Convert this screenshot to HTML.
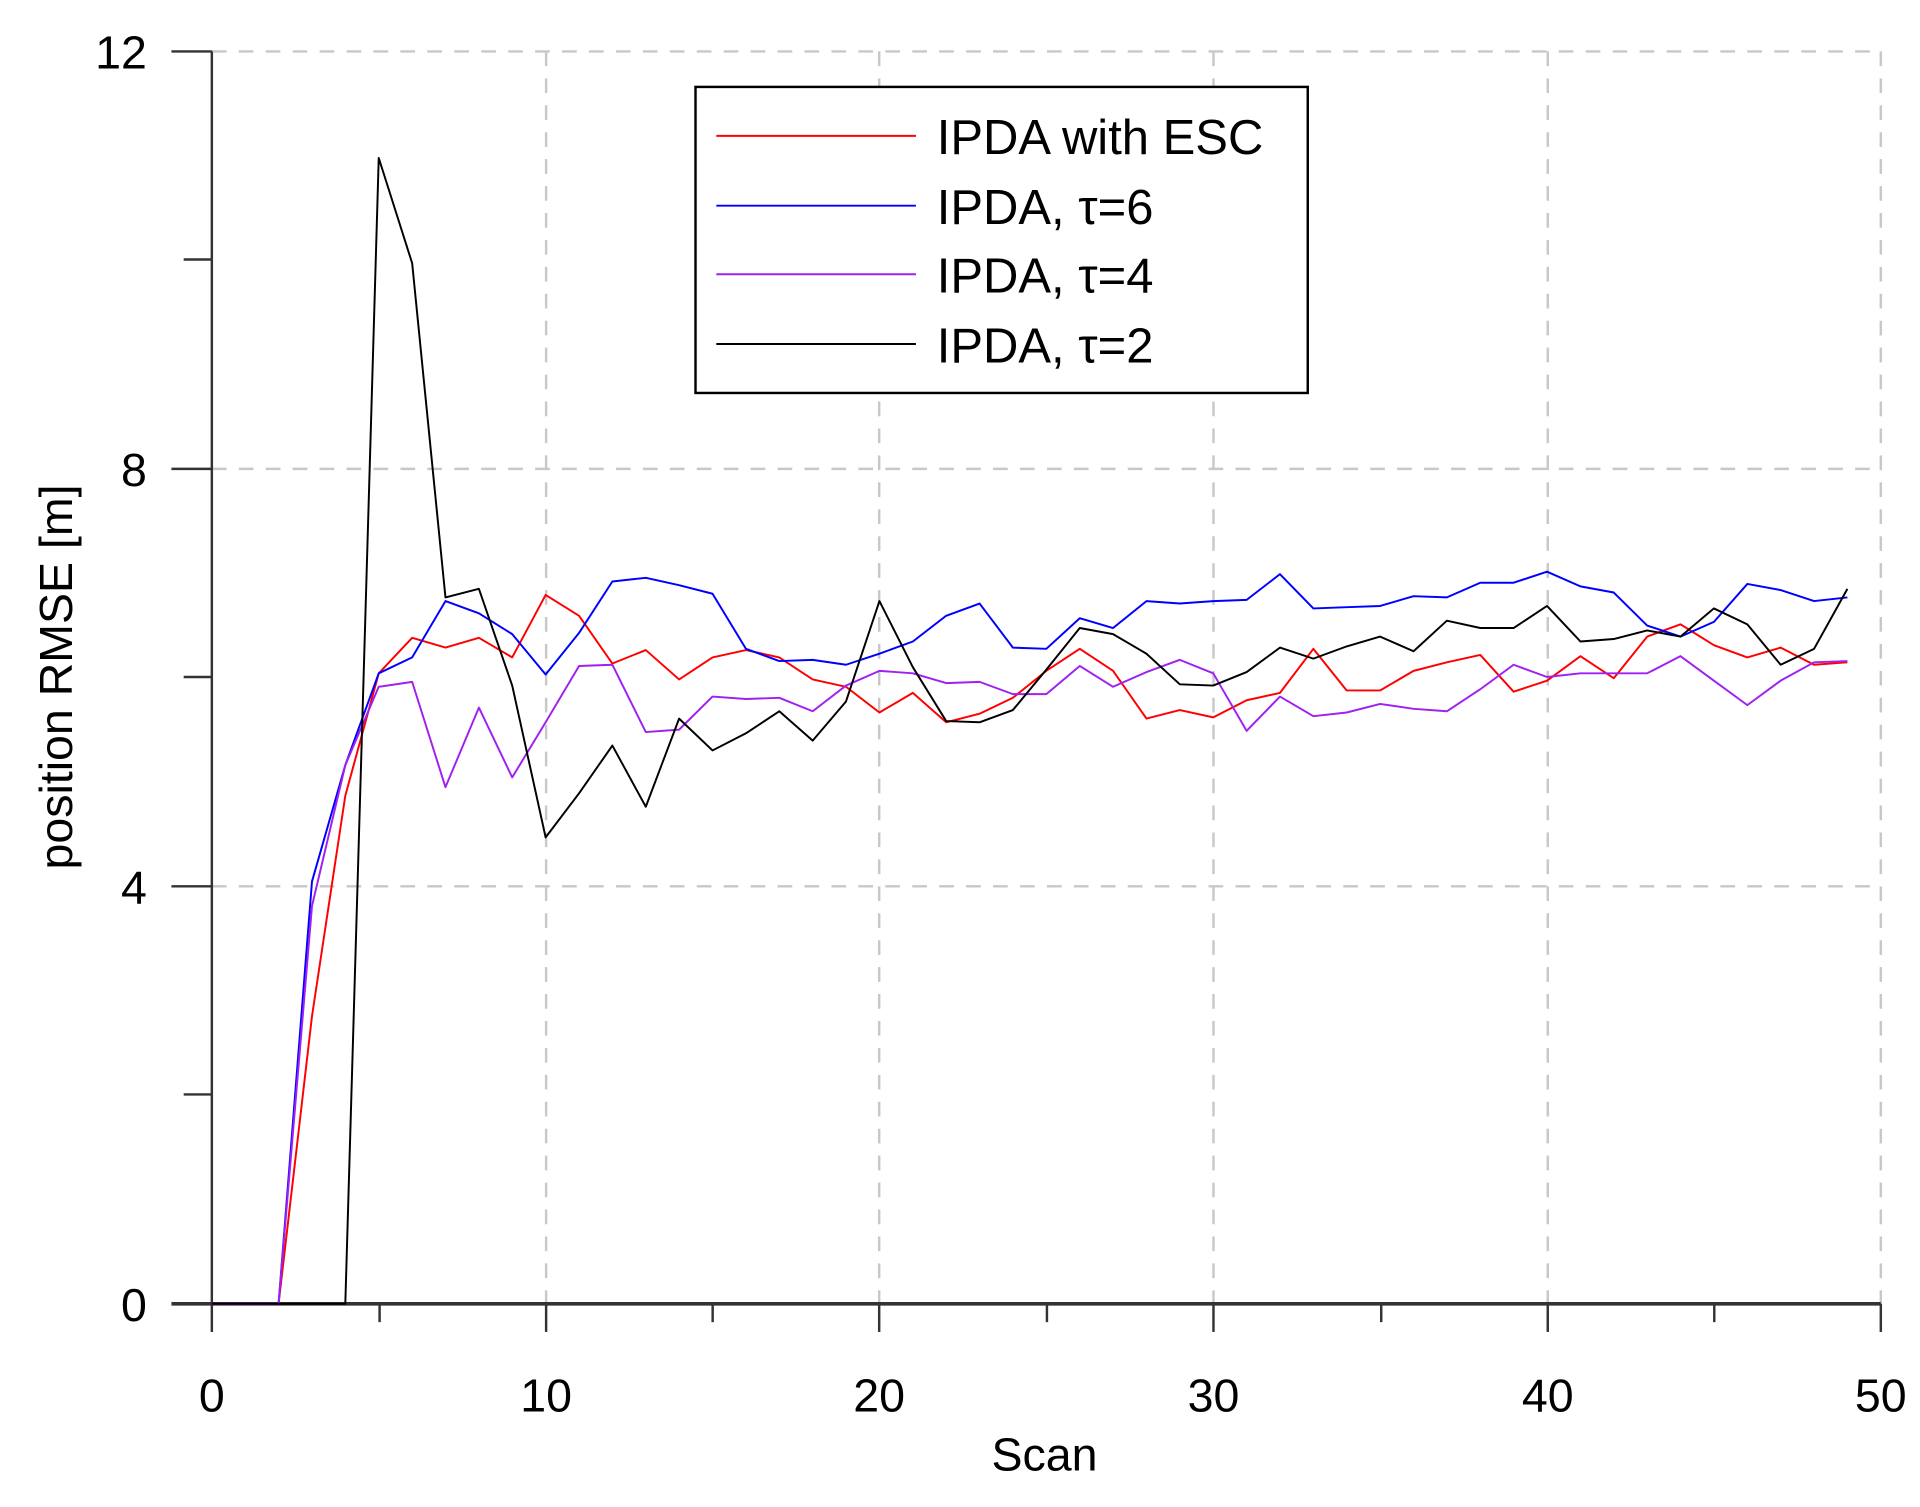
<!DOCTYPE html>
<html><head><meta charset="utf-8"><style>
html,body{margin:0;padding:0;background:#fff;}
svg{display:block;}
text{font-family:"Liberation Sans",sans-serif;fill:#000;}
</style></head><body>
<svg width="1920" height="1507" viewBox="0 0 1568 1231" preserveAspectRatio="none">
<g stroke="#c8c8c8" stroke-width="2" stroke-dasharray="12,10" fill="none">
<line x1="173" y1="42" x2="1536" y2="42"/>
<line x1="173" y1="383" x2="1536" y2="383"/>
<line x1="173" y1="724" x2="1536" y2="724"/>
<line x1="446" y1="42" x2="446" y2="1065"/>
<line x1="718" y1="42" x2="718" y2="1065"/>
<line x1="991" y1="42" x2="991" y2="1065"/>
<line x1="1264" y1="42" x2="1264" y2="1065"/>
<line x1="1536" y1="42" x2="1536" y2="1065"/>
</g>
<g stroke="#333" stroke-width="2" fill="none">
<line x1="173" y1="42" x2="173" y2="1088"/>
<line x1="140" y1="1065" x2="1536" y2="1065" stroke-width="3"/>
<line x1="140" y1="42" x2="173" y2="42"/>
<line x1="150" y1="212" x2="173" y2="212"/>
<line x1="140" y1="383" x2="173" y2="383"/>
<line x1="150" y1="553" x2="173" y2="553"/>
<line x1="140" y1="724" x2="173" y2="724"/>
<line x1="150" y1="894" x2="173" y2="894"/>
<line x1="446" y1="1065" x2="446" y2="1088"/>
<line x1="718" y1="1065" x2="718" y2="1088"/>
<line x1="991" y1="1065" x2="991" y2="1088"/>
<line x1="1264" y1="1065" x2="1264" y2="1088"/>
<line x1="1536" y1="1065" x2="1536" y2="1088"/>
<line x1="310" y1="1065" x2="310" y2="1080"/>
<line x1="582" y1="1065" x2="582" y2="1080"/>
<line x1="855" y1="1065" x2="855" y2="1080"/>
<line x1="1128" y1="1065" x2="1128" y2="1080"/>
<line x1="1400" y1="1065" x2="1400" y2="1080"/>
</g>
<g font-size="38" text-anchor="end">
<text x="120" y="56">12</text>
<text x="120" y="397">8</text>
<text x="120" y="738">4</text>
<text x="120" y="1079">0</text>
</g>
<g font-size="38" text-anchor="middle">
<text x="173" y="1153">0</text>
<text x="446" y="1153">10</text>
<text x="718" y="1153">20</text>
<text x="991" y="1153">30</text>
<text x="1264" y="1153">40</text>
<text x="1536" y="1153">50</text>
<text x="853" y="1201">Scan</text>
<text transform="translate(59,553) rotate(-90)">position RMSE [m]</text>
</g>
<g fill="none" stroke-width="1.6" stroke-linejoin="round">
<polyline id="r" stroke="#ff0000" points=""/>
<polyline id="b" stroke="#0000ff" points=""/>
<polyline id="p" stroke="#a020f0" points=""/>
<polyline id="k" stroke="#000" points=""/>
</g>
<rect x="568" y="71" width="500" height="250" fill="#fff" stroke="#000" stroke-width="2"/>
<g stroke-width="1.6">
<line x1="585" y1="111" x2="748" y2="111" stroke="#ff0000"/>
<line x1="585" y1="168" x2="748" y2="168" stroke="#0000ff"/>
<line x1="585" y1="224" x2="748" y2="224" stroke="#a020f0"/>
<line x1="585" y1="281" x2="748" y2="281" stroke="#000"/>
</g>
<g font-size="40">
<text x="765" y="126">IPDA with ESC</text>
<text x="765" y="183">IPDA, τ=6</text>
<text x="765" y="239">IPDA, τ=4</text>
<text x="765" y="296">IPDA, τ=2</text>
</g>
</svg>
<script>
var d={
r:[1065,1065,1065,830,650,550,521,529,521,537,486,503,542,531,555,537,531,537,555,561,582,566,590,583,570,548,530,548,587,580,586,572,566,530,564,564,548,541,535,565,556,536,554,520,510,527,537,529,543,541],
b:[1065,1065,1065,720,625,550,537,491,501,518,551,517,475,472,478,485,530,540,539,543,534,524,503,493,529,530,505,513,491,493,491,490,469,497,496,495,487,488,476,476,467,479,484,511,520,508,477,482,491,488],
p:[1065,1065,1065,740,625,561,557,643,578,635,590,544,543,598,596,569,571,570,581,560,548,550,558,557,567,567,544,561,549,539,550,597,569,585,582,575,579,581,563,543,553,550,550,550,536,556,576,556,541,540],
k:[1065,1065,1065,1065,1065,129,215,488,481,560,684,648,609,659,587,613,599,581,605,573,491,545,589,590,580,547,513,518,534,559,560,549,529,538,528,520,532,507,513,513,495,524,522,515,520,497,510,543,530,481]};
for(var k in d){document.getElementById(k).setAttribute('points',d[k].map(function(y,i){return (173+27.26*i).toFixed(1)+','+y}).join(' '));}
</script>
</body></html>
